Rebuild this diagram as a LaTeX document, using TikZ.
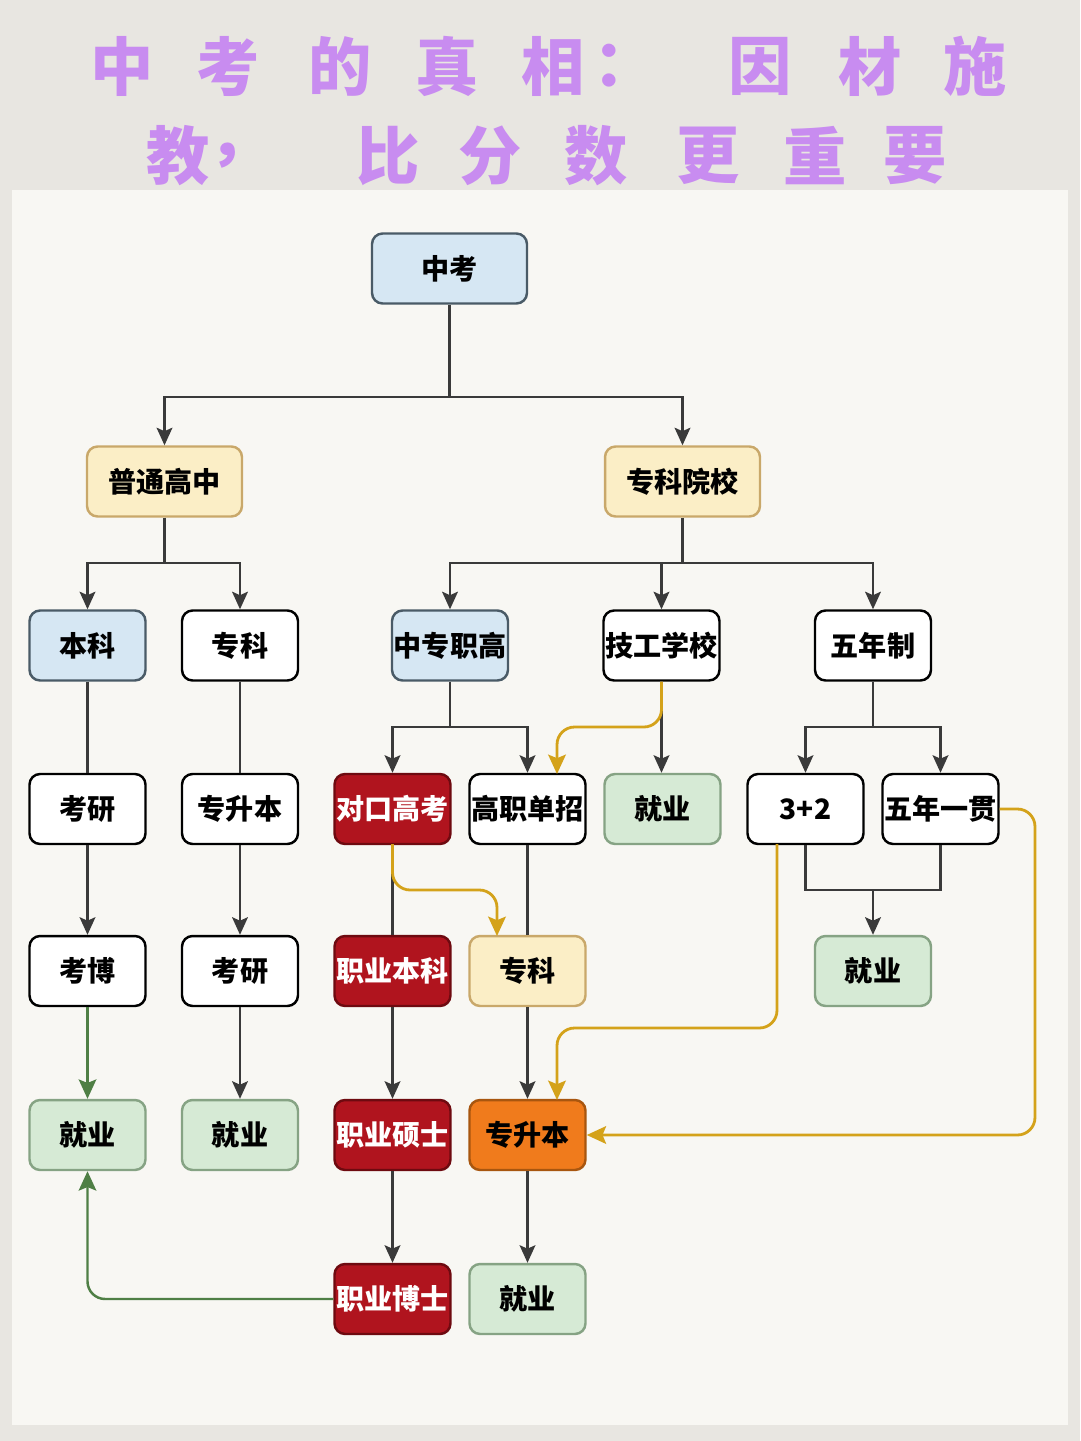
\documentclass[tikz,border=0pt]{standalone}
\usepackage{fontspec}
\newfontfamily\cjk{Noto Sans CJK SC}
\usetikzlibrary{arrows.meta}
\definecolor{paper}{HTML}{E8E6E1}
\definecolor{panel}{HTML}{F8F7F3}
\definecolor{titlec}{HTML}{C88CF0}
\definecolor{bfill}{HTML}{D6E7F3}
\definecolor{bdraw}{HTML}{4A5B67}
\definecolor{yfill}{HTML}{FBEEC6}
\definecolor{ydraw}{HTML}{C9A86A}
\definecolor{gfill}{HTML}{D6EAD5}
\definecolor{gdraw}{HTML}{86A384}
\definecolor{rfill}{HTML}{B0141E}
\definecolor{rdraw}{HTML}{6E0A10}
\definecolor{ofill}{HTML}{F07B1C}
\definecolor{odraw}{HTML}{A8560F}
\definecolor{linec}{HTML}{3A3A3A}
\definecolor{goldc}{HTML}{D4A21A}
\definecolor{greenc}{HTML}{4F7F45}
\tikzset{
  box/.style={draw=black, fill=white, line width=1.4pt, rounded corners=6pt,
    minimum width=2.32cm, minimum height=1.4cm, inner sep=0pt, text=black,
    font=\cjk\bfseries\fontsize{16}{16}\selectfont},
  wide/.style={minimum width=3.1cm},
  bluebox/.style={box, fill=bfill, draw=bdraw},
  yelbox/.style={box, fill=yfill, draw=ydraw},
  grnbox/.style={box, fill=gfill, draw=gdraw},
  redbox/.style={box, fill=rfill, draw=rdraw, text=white},
  orgbox/.style={box, fill=ofill, draw=odraw},
  wbox/.style={box},
  ln/.style={draw=linec, line width=1.3pt},
  arr/.style={ln, -{Stealth[length=10pt,width=9pt,inset=2pt]}},
  garr/.style={draw=goldc, line width=1.6pt, rounded corners=10pt, -{Stealth[length=11pt,width=10pt,inset=2pt]}},
  grarr/.style={draw=greenc, line width=1.4pt, rounded corners=10pt, -{Stealth[length=11pt,width=10pt,inset=2pt]}},
  ttl/.style={text=titlec, font=\cjk\bfseries\fontsize{36}{36}\selectfont, inner sep=0pt}
}
\begin{document}
\begin{tikzpicture}[x=0.02cm,y=-0.02cm]
\useasboundingbox (0,0) rectangle (1080,1441);
\fill[paper] (0,0) rectangle (1080,1441);
\fill[panel] (12,190) rectangle (1068,1425);

% title
\foreach \c/\x [count=\i] in {中/122,考/228,的/340,真/447,相/553,：/625,因/760,材/870,施/975}
  \node[ttl] (ta\i) at (\x,66) {\c};
\foreach \c/\x [count=\i] in {教/178,，/240,比/388,分/490,数/596,更/708,重/815,要/915}
  \node[ttl] (tb\i) at (\x,156) {\c};

% nodes
\node[bluebox, wide] (zk) at (449.5,268.5) {中考};
\node[yelbox, wide] (pt) at (164.5,481.5) {普通高中};
\node[yelbox, wide] (zky) at (682.5,481.5) {专科院校};

\node[bluebox] (bk) at (87.5,645.5) {本科};
\node[wbox] (zk2) at (240,645.5) {专科};
\node[bluebox] (zzzg) at (450,645.5) {中专职高};
\node[wbox] (jg) at (661.5,645.5) {技工学校};
\node[wbox] (wnz) at (873,645.5) {五年制};

\node[wbox] (ky1) at (87.5,809) {考研};
\node[wbox] (zsb1) at (240,809) {专升本};
\node[redbox] (dk) at (392.5,809) {对口高考};
\node[wbox] (gz) at (527.5,809) {高职单招};
\node[grnbox] (jy1) at (662.5,809) {就业};
\node[wbox] (s32) at (805.5,809) {3+2};
\node[wbox] (wy) at (940.5,809) {五年一贯};

\node[wbox] (kb) at (87.5,971) {考博};
\node[wbox] (ky2) at (240,971) {考研};
\node[redbox] (zybk) at (392.5,971) {职业本科};
\node[yelbox] (zk3) at (527.5,971) {专科};
\node[grnbox] (jy2) at (873,971) {就业};

\node[grnbox] (jy3) at (87.5,1135) {就业};
\node[grnbox] (jy4) at (240,1135) {就业};
\node[redbox] (zyss) at (392.5,1135) {职业硕士};
\node[orgbox] (zsb2) at (527.5,1135) {专升本};

\node[redbox] (zybs) at (392.5,1299) {职业博士};
\node[grnbox] (jy5) at (527.5,1299) {就业};

% junctions
\coordinate (j1) at (449.5,397);
\coordinate (j2) at (164.5,563);
\coordinate (j3) at (682.5,563);
\coordinate (j4) at (450,727);
\coordinate (j5) at (873,727);
\coordinate (j6a) at (805.5,890);
\coordinate (j6b) at (940.5,890);
\coordinate (j6) at (873,890);

% dark connectors
\draw[ln] (zk.south) -- (j1);
\draw[arr] (j1) -| (pt.north);
\draw[arr] (j1) -| (zky.north);
\draw[ln] (pt.south) -- (j2);
\draw[arr] (j2) -| (bk.north);
\draw[arr] (j2) -| (zk2.north);
\draw[ln] (zky.south) -- (j3);
\draw[arr] (j3) -| (zzzg.north);
\draw[arr] (j3) -| (jg.north);
\draw[arr] (j3) -| (wnz.north);

\draw[ln] (bk.south) -- (ky1.north);
\draw[arr] (ky1.south) -- (kb.north);
\draw[ln] (zk2.south) -- (zsb1.north);
\draw[arr] (zsb1.south) -- (ky2.north);
\draw[arr] (ky2.south) -- (jy4.north);

\draw[ln] (zzzg.south) -- (j4);
\draw[arr] (j4) -| (dk.north);
\draw[arr] (j4) -| (gz.north);
\draw[arr] (jg.south) -- (jg.south |- jy1.north);

\draw[ln] (dk.south) -- (zybk.north);
\draw[arr] (zybk.south) -- (zyss.north);
\draw[arr] (zyss.south) -- (zybs.north);
\draw[ln] (gz.south) -- (zk3.north);
\draw[arr] (zk3.south) -- (zsb2.north);
\draw[arr] (zsb2.south) -- (jy5.north);

\draw[ln] (wnz.south) -- (j5);
\draw[arr] (j5) -| (s32.north);
\draw[arr] (j5) -| (wy.north);
\draw[ln] (s32.south) -- (j6a) -- (j6b) -- (wy.south);
\draw[arr] (j6) -- (jy2.north);

% gold connectors
\coordinate (g1a) at (661.5,727);
\coordinate (g1b) at (557,727);
\coordinate (g1c) at (557,774);
\draw[garr] (jg.south) -- (g1a) -- (g1b) -- (g1c);
\coordinate (g2s) at (392.5,844);
\coordinate (g2a) at (392.5,890);
\coordinate (g2b) at (497,890);
\coordinate (g2c) at (497,936);
\draw[garr] (g2s) -- (g2a) -- (g2b) -- (g2c);
\coordinate (g3s) at (777,844);
\coordinate (g3a) at (777,1028);
\coordinate (g3b) at (557,1028);
\coordinate (g3c) at (557,1100);
\draw[garr] (g3s) -- (g3a) -- (g3b) -- (g3c);
\coordinate (g4a) at (1035,809);
\coordinate (g4b) at (1035,1135);
\draw[garr] (wy.east) -- (g4a) -- (g4b) -- (zsb2.east);

% green connectors
\draw[grarr] (kb.south) -- (jy3.north);
\coordinate (gr1) at (87.5,1299);
\draw[grarr] (zybs.west) -- (gr1) -- (jy3.south);
\end{tikzpicture}
\end{document}
